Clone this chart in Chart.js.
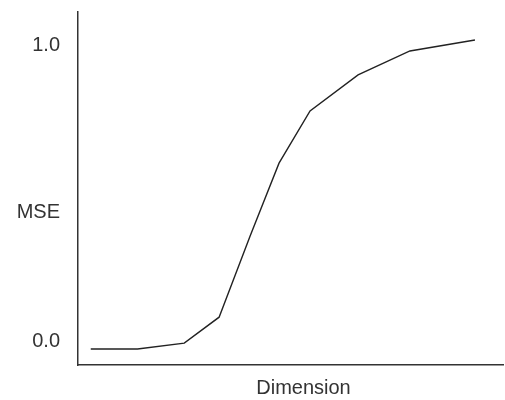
<!DOCTYPE html>
<html>
<head>
<meta charset="utf-8">
<script src="https://cdn.jsdelivr.net/npm/chart.js@4/dist/chart.umd.min.js"></script>
<style>
  html, body { margin: 0; padding: 0; background: #fff; }
  #wrap { width: 505px; height: 400px; }
</style>
</head>
<body>
<div id="wrap"><canvas id="mseChart"></canvas></div>
<script>
// dades llegides de la figura
const dimensions = [0.3, 1.4, 2.5, 3.32, 4.05, 4.73, 5.46, 6.59, 7.81, 9.34];
const mseValues = [-0.027, -0.027, -0.007, 0.081, 0.356, 0.603, 0.78, 0.902, 0.983, 1.02];
const yTickValues = [0, 0.437, 1];
const yTickLabels = ['0.0', 'MSE', '1.0'];
const xTitle = 'Dimension';

const textFont = { family: "'Liberation Sans', Arial, sans-serif", size: 20 };

// etiqueta de l'eix x, una mica desplaçada a la dreta com a l'original
const xTitlePlugin = {
  id: 'xTitle',
  afterDraw(chart) {
    const c = chart.ctx, a = chart.chartArea;
    c.save();
    c.font = textFont.size + 'px ' + textFont.family;
    c.fillStyle = '#333';
    c.textAlign = 'center';
    c.textBaseline = 'middle';
    c.fillText(xTitle, (a.left + a.right) / 2 + 13, a.bottom + 23);
    c.restore();
  }
};

const ctx = document.getElementById('mseChart').getContext('2d');
new Chart(ctx, {
  type: 'line',
  data: {
    datasets: [{
      data: dimensions.map((d, i) => ({ x: d, y: mseValues[i] })),
      borderColor: '#222',
      borderWidth: 1.4,
      pointRadius: 0,
      tension: 0,
      fill: false
    }]
  },
  options: {
    responsive: true,
    maintainAspectRatio: false,
    animation: false,
    layout: { padding: { top: 12, right: 2, left: 0, bottom: 0 } },
    plugins: {
      legend: { display: false },
      tooltip: { enabled: false }
    },
    scales: {
      x: {
        type: 'linear',
        min: 0,
        max: 10,
        grid: { display: false, drawTicks: false },
        border: { display: true, color: '#333', width: 1.5 },
        ticks: { display: false },
        afterFit(scale) { scale.height = 35; }
      },
      y: {
        min: -0.081,
        max: 1.115,
        grid: { display: false, drawTicks: false },
        border: { display: true, color: '#333', width: 1.5 },
        afterBuildTicks(scale) {
          scale.ticks = yTickValues.map(v => ({ value: v }));
        },
        ticks: {
          autoSkip: false,
          padding: 18,
          color: '#333',
          font: textFont,
          callback: (v) => yTickLabels[yTickValues.indexOf(v)]
        },
        afterFit(scale) {
          scale.width = 78;
          // les etiquetes no arriben a les vores, no cal marge extra
          scale.paddingTop = 0;
          scale.paddingBottom = 0;
        }
      }
    }
  },
  plugins: [xTitlePlugin]
});
</script>
</body>
</html>
